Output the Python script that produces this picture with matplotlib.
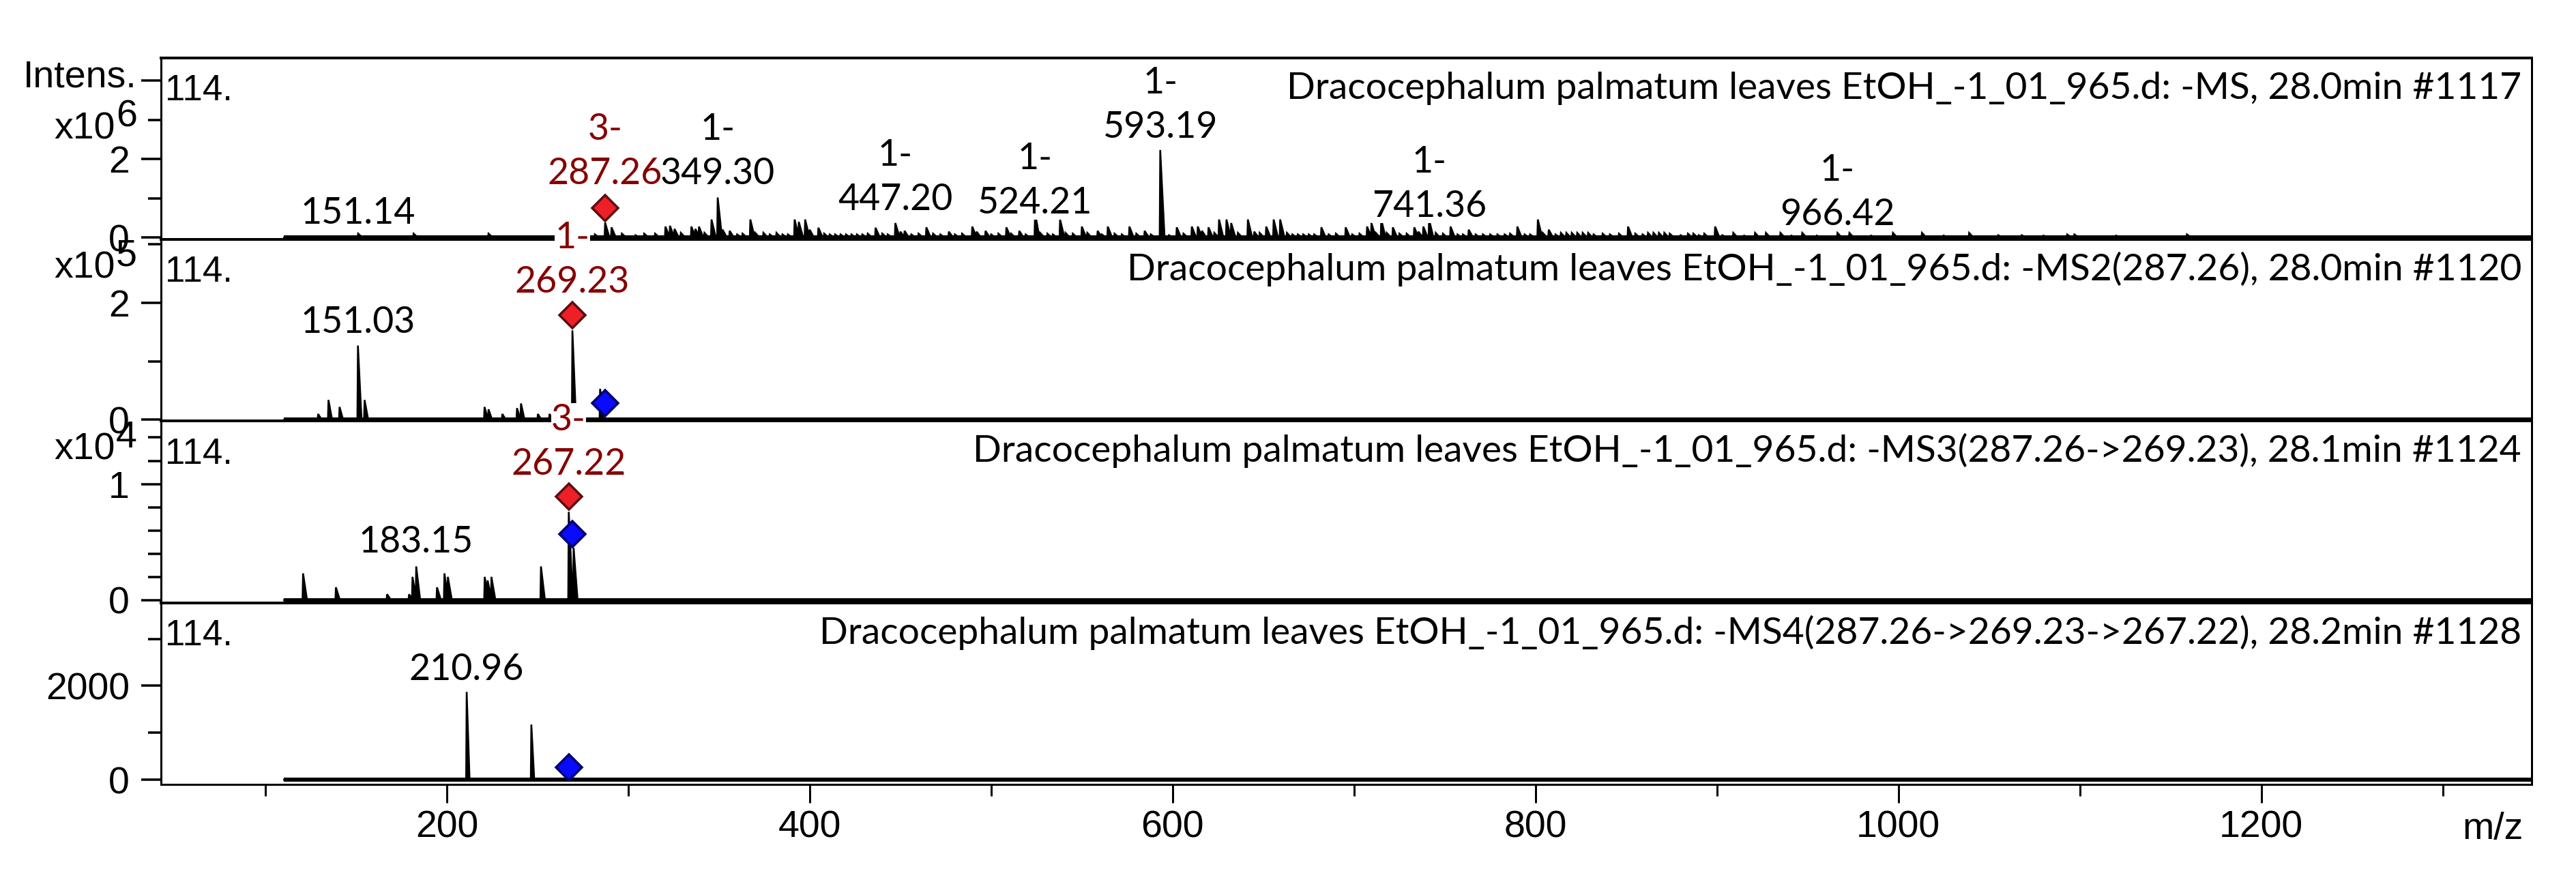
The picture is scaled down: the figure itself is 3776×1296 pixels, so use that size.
import matplotlib
matplotlib.use("Agg")
import matplotlib.pyplot as plt
from matplotlib.ticker import FixedLocator, FixedFormatter, NullFormatter

# ---------------- data ----------------
# Panel 1: -MS full scan, intensities in units of 1e6
ms1_mz = [151.14, 181.7, 223.0, 260.7, 281.6, 287.26, 290.8, 296.5, 304.0, 308.8,
          314.8, 320.5, 323.0, 325.5, 329.0, 334.8, 337.0, 339.0, 342.0, 345.9,
          349.30, 352.0, 355.9, 360.0, 363.0, 367.3, 370.0, 374.5, 378.0, 381.7,
          385.0, 388.0, 391.7, 394.0, 397.5, 400.0, 404.8, 408.0, 411.0, 414.0,
          417.0, 420.0, 423.0, 426.0, 429.0, 432.0, 436.3, 440.0, 443.0, 447.20,
          450.0, 452.3, 456.0, 460.0, 464.3, 468.0, 472.0, 476.7, 480.0, 484.0,
          489.6, 492.0, 496.9, 500.0, 504.0, 508.4, 511.0, 515.5, 519.0, 524.21,
          527.0, 531.0, 534.0, 538.0, 541.0, 545.0, 550.0, 553.0, 558.7, 561.0,
          564.3, 568.0, 572.0, 576.2, 580.0, 584.6, 588.0, 593.19, 598.0, 602.3,
          606.0, 610.6, 613.9, 616.2, 619.8, 623.0, 625.6, 629.7, 632.3, 636.0,
          641.5, 645.0, 648.0, 651.6, 655.7, 659.3, 663.0, 666.0, 669.0, 672.0,
          675.0, 678.0, 682.0, 686.0, 690.0, 695.4, 699.0, 703.0, 707.2, 709.6,
          712.0, 715.0, 718.0, 721.4, 725.0, 729.0, 733.2, 735.5, 738.2, 741.36,
          745.0, 749.0, 753.2, 757.0, 760.0, 763.2, 767.0, 771.0, 775.0, 779.0,
          783.0, 786.0, 790.0, 794.0, 797.0, 801.3, 804.0, 807.3, 811.0, 814.0,
          817.0, 820.0, 823.0, 826.0, 829.0, 832.0, 837.0, 841.0, 846.0, 851.0,
          855.0, 859.0, 862.0, 865.0, 868.0, 871.0, 874.0, 880.0, 884.0, 887.0,
          890.0, 893.0, 899.0, 903.0, 909.0, 915.0, 921.0, 927.0, 935.0, 941.0,
          947.0, 955.0, 966.42, 973.0, 985.0, 997.0, 1013.0, 1025.0, 1039.0, 1055.0,
          1068.0, 1080.0, 1093.0, 1097.0, 1120.0, 1159.0]
ms1_int = [0.10, 0.10, 0.10, 0.10, 0.08, 0.38, 0.26, 0.10, 0.06, 0.10,
           0.10, 0.28, 0.30, 0.22, 0.12, 0.28, 0.22, 0.28, 0.12, 0.46,
           1.02, 0.20, 0.17, 0.08, 0.10, 0.46, 0.12, 0.12, 0.08, 0.12,
           0.08, 0.08, 0.46, 0.40, 0.46, 0.20, 0.25, 0.10, 0.08, 0.08,
           0.08, 0.08, 0.08, 0.08, 0.08, 0.10, 0.25, 0.10, 0.08, 0.37,
           0.15, 0.17, 0.08, 0.10, 0.26, 0.10, 0.08, 0.15, 0.08, 0.10,
           0.28, 0.15, 0.17, 0.08, 0.10, 0.26, 0.10, 0.17, 0.08, 0.63,
           0.12, 0.10, 0.08, 0.46, 0.12, 0.10, 0.28, 0.12, 0.17, 0.08,
           0.28, 0.10, 0.08, 0.28, 0.10, 0.17, 0.08, 2.23, 0.06, 0.26,
           0.10, 0.28, 0.28, 0.17, 0.26, 0.12, 0.46, 0.46, 0.37, 0.12,
           0.46, 0.15, 0.12, 0.28, 0.46, 0.46, 0.12, 0.08, 0.08, 0.08,
           0.08, 0.08, 0.26, 0.08, 0.10, 0.26, 0.08, 0.10, 0.28, 0.37,
           0.12, 0.46, 0.12, 0.26, 0.10, 0.10, 0.26, 0.15, 0.28, 0.46,
           0.12, 0.10, 0.28, 0.08, 0.08, 0.20, 0.08, 0.08, 0.08, 0.08,
           0.08, 0.10, 0.28, 0.08, 0.08, 0.46, 0.12, 0.20, 0.08, 0.12,
           0.12, 0.12, 0.12, 0.12, 0.12, 0.08, 0.10, 0.08, 0.10, 0.28,
           0.10, 0.08, 0.12, 0.12, 0.12, 0.12, 0.10, 0.06, 0.10, 0.10,
           0.06, 0.10, 0.28, 0.06, 0.12, 0.05, 0.12, 0.12, 0.12, 0.05,
           0.12, 0.05, 0.12, 0.12, 0.05, 0.12, 0.12, 0.05, 0.12, 0.06,
           0.06, 0.05, 0.08, 0.08, 0.05, 0.08]

# Panel 2: -MS2(287.26), units of 1e5
ms2_mz = [129.1, 134.8, 140.9, 151.03, 154.7, 220.8, 223.0, 230.6, 238.7, 240.9,
          250.2, 256.6, 269.23, 284.5]
ms2_int = [0.10, 0.34, 0.22, 1.27, 0.34, 0.22, 0.18, 0.10, 0.20, 0.28,
           0.10, 0.10, 1.53, 0.53]

# Panel 3: -MS3(287.26->269.23), units of 1e4
ms3_mz = [120.8, 138.9, 167.1, 179.2, 181.1, 183.15, 194.6, 198.7, 200.6, 220.9,
          222.5, 224.6, 251.9, 267.22, 269.9]
ms3_int = [0.23, 0.11, 0.05, 0.05, 0.20, 0.29, 0.11, 0.23, 0.20, 0.20,
           0.17, 0.20, 0.29, 0.76, 0.45]

# Panel 4: -MS4(287.26->269.23->267.22), raw counts
ms4_mz = [210.96, 246.6]
ms4_int = [1870, 1174]

# precursor markers (m/z, height)
ms1_red = [(287.26, 0.75)]
ms2_red = [(269.23, 1.79)]
ms2_blue = [(287.26, 0.28)]
ms3_red = [(267.22, 0.89)]
ms3_blue = [(269.23, 0.57)]
ms4_blue = [(267.22, 261)]

# peak labels: (m/z text, charge, is_precursor)
ms1_labels = [("151.14", None, False), ("349.30", "1-", False), ("447.20", "1-", False),
              ("524.21", "1-", False), ("593.19", "1-", False), ("741.36", "1-", False),
              ("966.42", "1-", False), ("287.26", "3-", True)]
ms1_label_y = [0.35, 1.36, 0.70, 0.61, 2.54, 0.52, 0.31, 1.36]
ms2_labels = [("151.03", None, False), ("269.23", "1-", True)]
ms2_label_y = [1.49, 2.18]
ms3_labels = [("183.15", None, False), ("267.22", "3-", True)]
ms3_label_y = [0.41, 1.08]
ms4_labels = [("210.96", None, False)]
ms4_label_y = [2116]

titles = [
    "Dracocephalum palmatum leaves EtOH_-1_01_965.d: -MS, 28.0min #1117",
    "Dracocephalum palmatum leaves EtOH_-1_01_965.d: -MS2(287.26), 28.0min #1120",
    "Dracocephalum palmatum leaves EtOH_-1_01_965.d: -MS3(287.26->269.23), 28.1min #1124",
    "Dracocephalum palmatum leaves EtOH_-1_01_965.d: -MS4(287.26->269.23->267.22), 28.2min #1128",
]
exponents = ["6", "5", "4", None]
x_major = [200, 400, 600, 800, 1000, 1200]
x_minor = [100, 300, 500, 700, 900, 1100, 1300]

# ---------------- layout ----------------
W, H, DPI = 3776, 1296, 100
PT = 72.0 / DPI          # points per pixel
LEFT, RIGHT = 236, 3711
TOP, BOTTOM = 85, 1150
PANEL_H = (BOTTOM - TOP) / 4.0
SCAN_START, SCAN_END = 110, 1350
XLIM = (42.5, 1349)

DARKRED = "#860000"
TICKFONT = ["Liberation Sans", "DejaVu Sans"]
LABFONT = ["Lato", "DejaVu Sans"]

fig = plt.figure(figsize=(W / DPI, H / DPI), dpi=DPI)
fig.patch.set_facecolor("white")


def fx(px):
    return px / W


def fy(py):
    return 1 - py / H


panels = [
    dict(mz=ms1_mz, it=ms1_int, ylim=(-0.052, 4.574), major=[0, 2, 4], majlab=["0", "2", ""],
         minor=[1, 3], red=ms1_red, blue=[], labels=ms1_labels, label_y=ms1_label_y, tail=2.4),
    dict(mz=ms2_mz, it=ms2_int, ylim=(-0.0235, 3.082), major=[0, 2], majlab=["0", "2"],
         minor=[1, 3], red=ms2_red, blue=ms2_blue, labels=ms2_labels, label_y=ms2_label_y,
         tail=2.0),
    dict(mz=ms3_mz, it=ms3_int, ylim=(-0.0235, 1.541), major=[0, 1], majlab=["0", "1"],
         minor=[0.2, 0.4, 0.6, 0.8, 1.2, 1.4], red=ms3_red, blue=ms3_blue, labels=ms3_labels,
         label_y=ms3_label_y, tail=2.2),
    dict(mz=ms4_mz, it=ms4_int, ylim=(-101, 3768), major=[0, 2000], majlab=["0", "2000"],
         minor=[1000, 3000], red=[], blue=ms4_blue, labels=ms4_labels, label_y=ms4_label_y,
         tail=1.6),
]

TICK_FS = 40
LAB_FS = 38.5
CHARGE_OFFSET = 65 * PT

axes = []
peak_texts = []
for i, p in enumerate(panels):
    top_px = TOP + i * PANEL_H
    ax = fig.add_axes([fx(LEFT), fy(top_px + PANEL_H), fx(RIGHT) - fx(LEFT), PANEL_H / H])
    axes.append(ax)
    ax.set_xlim(*XLIM)
    ax.set_ylim(*p["ylim"])
    for s in ax.spines.values():
        s.set_linewidth(3 * PT)
    ax.spines["top"].set_linewidth(4 * PT)

    # profile-like peaks (sharp rise, decaying tail)
    xs, ys = [SCAN_START], [0.0]
    for m, v in sorted(zip(p["mz"], p["it"])):
        xs += [m - 0.3, m, m + p["tail"]]
        ys += [0.0, v, 0.0]
    xs.append(SCAN_END)
    ys.append(0.0)
    ax.fill(xs, ys, facecolor="black", edgecolor="black", linewidth=2.6 * PT, zorder=2)
    ax.hlines(0, SCAN_START, SCAN_END, color="black", linewidth=6 * PT, zorder=2)

    # precursor markers
    for m, v in p["blue"]:
        ax.plot([m], [v], ls="none", marker="D", ms=19, mfc="#0a0aff", mec="#000070",
                mew=3.5 * PT, zorder=5, clip_on=False)
    for m, v in p["red"]:
        ax.plot([m], [v], ls="none", marker="D", ms=19, mfc="#ee2027", mec="#5a0d10",
                mew=3.5 * PT, zorder=5, clip_on=False)

    # peak labels
    for (txt, charge, prec), yv in zip(p["labels"], p["label_y"]):
        col = DARKRED if prec else "black"
        zo = 8 if prec else 7
        m = float(txt)
        t = ax.text(m, yv, txt, ha="center", va="baseline", fontsize=LAB_FS, family=LABFONT,
                    color=col, zorder=zo, clip_on=False,
                    bbox=dict(facecolor="white", edgecolor="none", pad=0))
        peak_texts.append(t)
        if charge:
            c = ax.annotate(charge, xy=(m, yv), xytext=(0, CHARGE_OFFSET),
                            textcoords="offset points", ha="center", va="baseline",
                            fontsize=LAB_FS, family=LABFONT, color=col, zorder=zo,
                            annotation_clip=False,
                            bbox=dict(facecolor="white", edgecolor="none", pad=0))
            peak_texts.append(c)

    # y ticks
    ax.yaxis.set_major_locator(FixedLocator(p["major"]))
    ax.yaxis.set_major_formatter(FixedFormatter(p["majlab"]))
    ax.yaxis.set_minor_locator(FixedLocator(p["minor"]))
    ax.yaxis.set_minor_formatter(NullFormatter())
    ax.tick_params(axis="y", which="major", direction="out", length=29 * PT, width=3.5 * PT,
                   pad=17 * PT, labelsize=TICK_FS)
    ax.tick_params(axis="y", which="minor", direction="out", length=19 * PT, width=3.5 * PT)
    for lab in ax.get_yticklabels():
        lab.set_family(TICKFONT)

    # x ticks only on bottom panel
    if i < 3:
        ax.tick_params(axis="x", which="both", bottom=False, labelbottom=False)
    else:
        ax.xaxis.set_major_locator(FixedLocator(x_major))
        ax.xaxis.set_minor_locator(FixedLocator(x_minor))
        ax.xaxis.set_minor_formatter(NullFormatter())
        ax.tick_params(axis="x", which="major", direction="out", length=27 * PT, width=3 * PT,
                       pad=11 * PT, labelsize=TICK_FS)
        ax.tick_params(axis="x", which="minor", direction="out", length=17 * PT, width=3 * PT)
        for lab in ax.get_xticklabels():
            lab.set_family(TICKFONT)

    # "114." at top-left of each panel
    fig.text(fx(242), fy(top_px + 62), "114.", ha="left", va="baseline",
             fontsize=38, family=TICKFONT)

    # exponent labels
    if exponents[i]:
        base = top_px + (118 if i == 0 else 56)
        fig.text(fx(169), fy(base), "x10", ha="right", va="baseline", fontsize=TICK_FS,
                 family=TICKFONT)
        fig.text(fx(201), fy(base - 18), exponents[i], ha="right", va="baseline",
                 fontsize=TICK_FS, family=TICKFONT)

fig.text(fx(201), fy(127), "Intens.", ha="right", va="baseline", fontsize=TICK_FS,
         family=TICKFONT)
fig.text(fx(3699), fy(1230), "m/z", ha="right", va="baseline", fontsize=TICK_FS,
         family=TICKFONT)

title_texts = []
for i, tt in enumerate(titles):
    top_px = TOP + i * PANEL_H
    t = fig.text(fx(3696), fy(top_px + 60), tt, ha="right", va="baseline", fontsize=36,
                 family=LABFONT)
    title_texts.append(t)

# fit title / label font size to the reference text widths
fig.canvas.draw()
r = fig.canvas.get_renderer()
w2 = title_texts[1].get_window_extent(renderer=r).width
tfs = 36 * 2046.0 / w2
for t in title_texts:
    t.set_fontsize(tfs)
probe = [t for t in peak_texts if t.get_text() == "593.19"][0]
wl = probe.get_window_extent(renderer=r).width
lfs = LAB_FS * 168.0 / wl
for t in peak_texts:
    t.set_fontsize(lfs)

fig.savefig("out.png", dpi=DPI, facecolor="white")
